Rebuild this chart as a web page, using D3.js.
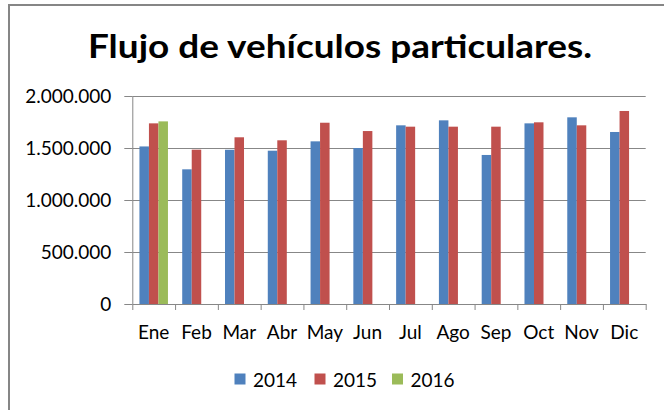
<!DOCTYPE html>
<html>
<head>
<meta charset="utf-8">
<script src="https://cdn.jsdelivr.net/npm/d3@7"></script>
<style>
  body { margin: 0; background: #fff; }
  text { font-family: Lato, "Open Sans", sans-serif; fill: #000; }
</style>
</head>
<body>
<div id="chart"></div>
<script>
// chart data
var months = ["Ene", "Feb", "Mar", "Abr", "May", "Jun", "Jul", "Ago", "Sep", "Oct", "Nov", "Dic"];
var years = ["2014", "2015", "2016"];
var values2014 = [1515000, 1295000, 1483000, 1474000, 1564000, 1500000, 1718000, 1766000, 1433000, 1737000, 1795000, 1654000];
var values2015 = [1737000, 1484000, 1603000, 1574000, 1743000, 1663000, 1705000, 1705000, 1705000, 1747000, 1718000, 1856000];
var values2016 = [1756000, null, null, null, null, null, null, null, null, null, null, null];
var yTicks = [0, 500000, 1000000, 1500000, 2000000];
var colors = ["#4F81BD", "#C0504D", "#9BBB59"];

var svgWidth = 664;
var svgHeight = 410;

var margin = { top: 96, right: 18.3, bottom: 106, left: 132.3 };
var width = svgWidth - margin.left - margin.right;
var height = svgHeight - margin.top - margin.bottom;

var svg = d3.select("#chart")
  .append("svg")
  .attr("width", svgWidth)
  .attr("height", svgHeight);

// outer frame (cut off at right and bottom like the screenshot)
svg.append("rect")
  .attr("x", 9)
  .attr("y", 5)
  .attr("width", 700)
  .attr("height", 500)
  .attr("fill", "none")
  .attr("stroke", "#868686")
  .attr("stroke-width", 2);

svg.append("text")
  .attr("x", 340)
  .attr("y", 58)
  .attr("text-anchor", "middle")
  .style("font-weight", "bold")
  .style("font-size", "33px")
  .attr("textLength", 504)
  .attr("lengthAdjust", "spacingAndGlyphs")
  .text("Flujo de vehículos particulares.");

var chartGroup = svg.append("g")
  .attr("transform", `translate(${margin.left}, ${margin.top})`);

var series = [values2014, values2015, values2016];
var data = months.map(function(m, i) {
  return { month: m, vals: series.map(function(s, j) { return { year: years[j], v: s[i] }; }) };
});

var x0 = d3.scaleBand()
  .domain(months)
  .range([0, width])
  .paddingInner(0.333)
  .paddingOuter(0.1667);

// band per category is whole step; 3 bars + 1.5 bar gap
var step = width / months.length;
var barW = step / 4.5;

var x1 = d3.scaleBand()
  .domain(years)
  .range([0, barW * 3]);

var yScale = d3.scaleLinear()
  .domain([0, 2000000])
  .range([height, 0]);

// gridlines
chartGroup.append("g")
  .selectAll("line")
  .data(yTicks.slice(1))
  .enter()
  .append("line")
  .attr("x1", 0)
  .attr("x2", width)
  .attr("y1", d => Math.round(yScale(d)) + 0.5)
  .attr("y2", d => Math.round(yScale(d)) + 0.5)
  .attr("stroke", "#878787")
  .attr("stroke-width", 1);

// bars
var groups = chartGroup.selectAll(".month")
  .data(data)
  .enter()
  .append("g")
  .attr("transform", (d, i) => `translate(${i * step + barW * 0.75}, 0)`);

groups.selectAll("rect")
  .data(d => d.vals.filter(v => v.v !== null))
  .enter()
  .append("rect")
  .attr("x", d => x1(d.year))
  .attr("y", d => yScale(d.v))
  .attr("width", x1.bandwidth())
  .attr("height", d => height - yScale(d.v))
  .attr("fill", d => colors[years.indexOf(d.year)]);

var fmt = function(d) {
  return d3.format(",")(d).replace(/,/g, ".");
};

// y axis
var leftAxis = d3.axisLeft(yScale)
  .tickValues(yTicks)
  .tickFormat(fmt)
  .tickSizeInner(8)
  .tickSizeOuter(0)
  .tickPadding(13);

var yAxis = chartGroup.append("g")
  .call(leftAxis);

// x axis with ticks between categories
var xTickScale = d3.scaleLinear().domain([0, 12]).range([0, width]);
var bottomAxis = d3.axisBottom(xTickScale)
  .tickValues(d3.range(0, 13))
  .tickFormat("")
  .tickSizeInner(6)
  .tickSizeOuter(0);

var xAxis = chartGroup.append("g")
  .attr("transform", `translate(0, ${height})`)
  .call(bottomAxis);

[yAxis, xAxis].forEach(function(a) {
  a.select(".domain").attr("stroke", "#878787");
  a.selectAll(".tick line").attr("stroke", "#878787");
});
yAxis.selectAll(".tick text")
  .style("font-size", "19px")
  .style("font-family", "Lato, sans-serif")
  .attr("fill", "#000");

chartGroup.append("g")
  .selectAll("text")
  .data(months)
  .enter()
  .append("text")
  .attr("x", (d, i) => i * step + step / 2)
  .attr("y", height + 35)
  .attr("text-anchor", "middle")
  .style("font-size", "19px")
  .text(d => d);

// legend
var legendX = [234.5, 314.5, 392];
var legend = svg.append("g");
years.forEach(function(y, i) {
  legend.append("rect")
    .attr("x", legendX[i])
    .attr("y", 373.5)
    .attr("width", 11)
    .attr("height", 11)
    .attr("fill", colors[i]);
  legend.append("text")
    .attr("x", legendX[i] + 18.5)
    .attr("y", 387)
    .style("font-size", "19px")
    .text(y);
});
</script>
</body>
</html>
